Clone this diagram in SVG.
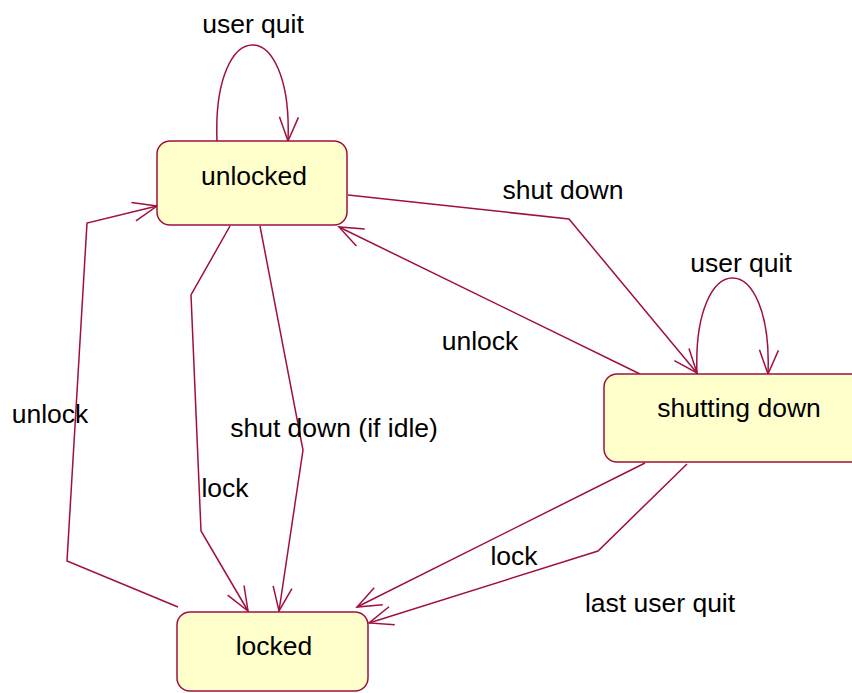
<svg xmlns="http://www.w3.org/2000/svg" width="852" height="693" viewBox="0 0 852 693">
<defs>
<marker id="arr" markerUnits="userSpaceOnUse" markerWidth="40" markerHeight="40" viewBox="-30 -20 40 40" refX="0" refY="0" orient="auto" overflow="visible">
<path d="M-24,-9.5 L0,0 L-24,9.5" fill="none" stroke="#A0103F" stroke-width="1.5"/>
</marker>
<style>
.node rect{fill:#FFFFCC;stroke:#A0103F;stroke-width:1.5}
.edge{fill:none;stroke:#A0103F;stroke-width:1.5;marker-end:url(#arr)}
text{font-family:"Liberation Sans",Arial,sans-serif;font-size:26.5px;fill:#000}
</style>
</defs>
<rect width="852" height="693" fill="#fff"/>
<g id="connectors">
<path class="edge" d="M217,141 C212,13 293,13 288,141"/>
<path class="edge" d="M697,374 C692,246 773,246 768,374"/>
<polyline class="edge" points="348,195 569,219 697,373"/>
<line class="edge" x1="640" y1="374" x2="339" y2="227"/>
<polyline class="edge" points="230,226 191,295 201,531 248,611"/>
<polyline class="edge" points="260,226 303,450 279,611"/>
<line class="edge" x1="645" y1="463" x2="357" y2="607"/>
<polyline class="edge" points="687,464 598,551 369,623"/>
<polyline class="edge" points="178,607 67,561 87,223 157,206"/>
</g>
<g id="labels">
<text x="253" y="33" text-anchor="middle">user quit</text>
<text x="741" y="272" text-anchor="middle">user quit</text>
<text x="563" y="199" text-anchor="middle">shut down</text>
<text x="480" y="350" text-anchor="middle">unlock</text>
<text x="225" y="497" text-anchor="middle">lock</text>
<text x="334" y="437" text-anchor="middle">shut down (if idle)</text>
<text x="514" y="565" text-anchor="middle">lock</text>
<text x="660" y="612" text-anchor="middle">last user quit</text>
<text x="50" y="423" text-anchor="middle">unlock</text>
</g>
<g id="node-unlocked" class="node">
<rect x="157" y="141" width="190" height="84" rx="13"/>
<text x="254" y="185" text-anchor="middle">unlocked</text>
</g>
<g id="node-shutting-down" class="node">
<rect x="604" y="374" width="272" height="88" rx="13"/>
<text x="739" y="417" text-anchor="middle">shutting down</text>
</g>
<g id="node-locked" class="node">
<rect x="177" y="612" width="191" height="79" rx="13"/>
<text x="274" y="655" text-anchor="middle">locked</text>
</g>
</svg>
